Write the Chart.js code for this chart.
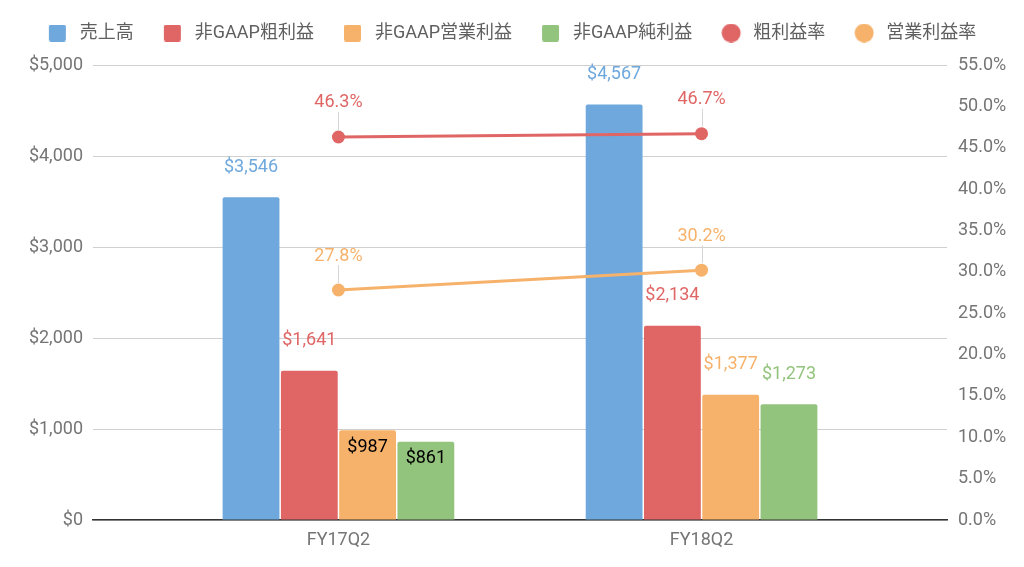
<!DOCTYPE html>
<html>
<head>
<meta charset="utf-8">
<script src="https://cdn.jsdelivr.net/npm/chart.js@4"></script>
<style>
  html, body { margin: 0; padding: 0; background: #fff; }
  #wrap { width: 1024px; height: 567px; }
</style>
</head>
<body>
<div id="wrap"><canvas id="chart"></canvas></div>
<script>
// ---- data read off the picture ----
var quarters = ['FY17Q2', 'FY18Q2'];
var revenue = [3546, 4567];      // 売上高
var grossProfit = [1641, 2134];  // 非GAAP粗利益
var opIncome = [987, 1377];      // 非GAAP営業利益
var netIncome = [861, 1273];     // 非GAAP純利益
var grossMargin = [46.3, 46.7];  // 粗利益率 (%)
var opMargin = [27.8, 30.2];     // 営業利益率 (%)
var dollarTicks = [0, 1000, 2000, 3000, 4000, 5000];
var pctTicks = [0, 5, 10, 15, 20, 25, 30, 35, 40, 45, 50, 55];

// ---- styling ----
var BLUE = '#6fa8dc', RED = '#e06666', ORANGE = '#f6b26b', GREEN = '#93c47d';
var FONT = 'Roboto, "Noto Sans CJK JP", sans-serif';
var TICK_COLOR = '#757575';
// labels drawn inside the bar (dataset index -> per category)
var labelInside = { 2: [true, false], 3: [true, false] };

// legend markers: drawn at the left of a 23px wide box
function rectMarker(color) {
  var c = document.createElement('canvas');
  c.width = 23; c.height = 17;
  var g = c.getContext('2d');
  g.fillStyle = color;
  g.beginPath();
  g.roundRect(1, 0, 17, 17, 2);
  g.fill();
  return c;
}
function dotMarker(color) {
  var c = document.createElement('canvas');
  c.width = 23; c.height = 19;
  var g = c.getContext('2d');
  g.fillStyle = color;
  g.beginPath();
  g.arc(10, 9.5, 9.5, 0, Math.PI * 2);
  g.fill();
  return c;
}

<!-- value labels on bars and points -->
var valueLabels = {
  id: 'valueLabels',
  afterDatasetsDraw: function (chart) {
    var ctx = chart.ctx;
    ctx.save();
    ctx.font = '18px ' + FONT;
    ctx.textAlign = 'center';
    ctx.textBaseline = 'middle';
    chart.data.datasets.forEach(function (ds, di) {
      var meta = chart.getDatasetMeta(di);
      meta.data.forEach(function (el, i) {
        var v = ds.data[i], txt;
        if (ds.type === 'line') {
          txt = v.toFixed(1) + '%';
          var lx = Math.round(el.x) + 0.5;
          ctx.strokeStyle = '#d6d6d6';
          ctx.lineWidth = 1;
          ctx.beginPath();
          ctx.moveTo(lx, el.y - 25);
          ctx.lineTo(lx, el.y - 7);
          ctx.stroke();
          ctx.fillStyle = ds.borderColor;
          ctx.fillText(txt, el.x, el.y - 34);
        } else {
          txt = '$' + v.toLocaleString('en-US');
          if (labelInside[di] && labelInside[di][i]) {
            ctx.fillStyle = '#000';
            ctx.fillText(txt, el.x, el.y + 17);
          } else {
            ctx.fillStyle = ds.backgroundColor;
            ctx.fillText(txt, el.x, el.y - 30);
          }
        }
      });
    });
    ctx.restore();
  }
};

<!-- fixed legend height so the plot starts where the reference does -->
var legendHeight = {
  id: 'legendHeight',
  beforeInit: function (chart) {
    var lg = chart.legend;
    var fit = lg.fit;
    lg.fit = function () {
      fit.call(this);
      this.height = 70;
    };
  }
};

function barSet(label, data, color) {
  return {
    type: 'bar', label: label, data: data, backgroundColor: color,
    yAxisID: 'y', order: 1,
    barPercentage: 0.975, categoryPercentage: 0.642,
    borderRadius: { topLeft: 2, topRight: 2 }, borderSkipped: 'start'
  };
}
function lineSet(label, data, color) {
  return {
    type: 'line', label: label, data: data, borderColor: color, backgroundColor: color,
    yAxisID: 'y1', order: 0, borderWidth: 3,
    pointRadius: 6.5, pointBorderWidth: 0, pointBackgroundColor: color, pointHoverRadius: 6.5
  };
}

var datasets = [
  barSet('売上高', revenue, BLUE),
  barSet('非GAAP粗利益', grossProfit, RED),
  barSet('非GAAP営業利益', opIncome, ORANGE),
  barSet('非GAAP純利益', netIncome, GREEN),
  lineSet('粗利益率', grossMargin, RED),
  lineSet('営業利益率', opMargin, ORANGE)
];
var markers = [rectMarker(BLUE), rectMarker(RED), rectMarker(ORANGE), rectMarker(GREEN), dotMarker(RED), dotMarker(ORANGE)];

new Chart(document.getElementById('chart'), {
  data: { labels: quarters, datasets: datasets },
  plugins: [valueLabels, legendHeight],
  options: {
    responsive: true,
    maintainAspectRatio: false,
    animation: false,
    layout: { padding: { top: -5, left: 0, right: 0, bottom: 0 } },
    plugins: {
      tooltip: { enabled: false },
      legend: {
        position: 'top',
        labels: {
          usePointStyle: true,
          pointStyleWidth: 23,
          boxHeight: 17,
          padding: 29,
          color: '#5f5f5f',
          font: { size: 18, family: FONT },
          generateLabels: function (chart) {
            return chart.data.datasets.map(function (ds, i) {
              return {
                text: ds.label, pointStyle: markers[i], fillStyle: ds.backgroundColor,
                strokeStyle: 'transparent', lineWidth: 0, hidden: false,
                datasetIndex: i, fontColor: '#5f5f5f'
              };
            });
          }
        }
      }
    },
    scales: {
      x: {
        offset: true,
        grid: { display: false, drawTicks: false },
        border: { display: true, color: '#333', width: 1.5 },
        ticks: { color: TICK_COLOR, font: { size: 18, family: FONT }, padding: 10 },
        afterBuildTicks: function (s) {
          // the reference keeps extra space on both sides of the two groups
          s._startValue = -0.676;
          s._valueRange = 2.352;
        },
        afterFit: function (s) { s.height = 47; }
      },
      y: {
        position: 'left',
        min: dollarTicks[0], max: dollarTicks[dollarTicks.length - 1],
        grid: { color: '#d0d0d0', lineWidth: 1, drawTicks: false },
        border: { display: false },
        ticks: {
          stepSize: dollarTicks[1] - dollarTicks[0],
          color: TICK_COLOR, font: { size: 18, family: FONT }, padding: 10,
          callback: function (v) { return '$' + v.toLocaleString('en-US'); }
        },
        afterFit: function (s) { s.width = 93; }
      },
      y1: {
        position: 'right',
        min: pctTicks[0], max: pctTicks[pctTicks.length - 1],
        grid: { display: false, drawTicks: false },
        border: { display: false },
        ticks: {
          stepSize: pctTicks[1] - pctTicks[0],
          color: TICK_COLOR, font: { size: 18, family: FONT }, padding: 11,
          callback: function (v) { return v.toFixed(1) + '%'; }
        },
        afterFit: function (s) { s.width = 77; }
      }
    }
  }
});
</script>
</body>
</html>
